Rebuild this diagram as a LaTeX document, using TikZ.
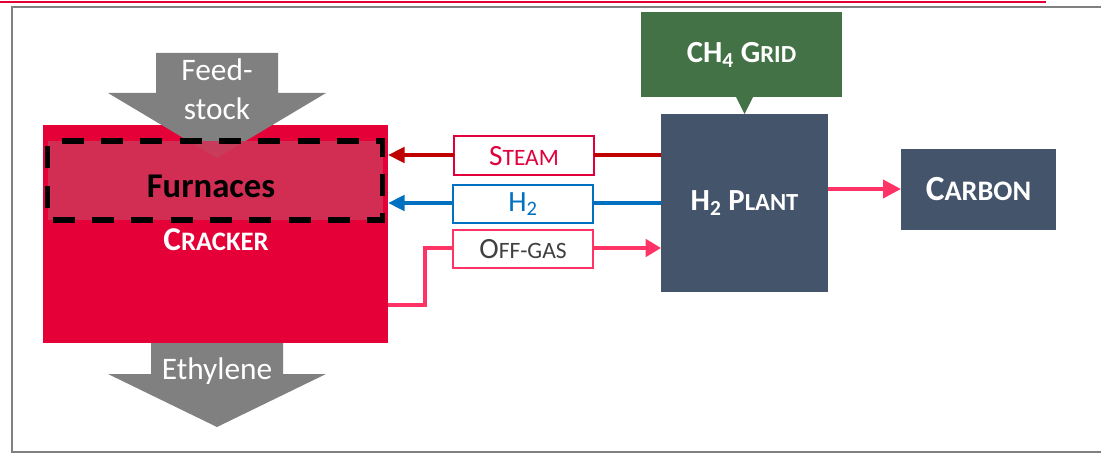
\documentclass[tikz,border=0pt]{standalone}
\usepackage{fontspec}
\setmainfont{Carlito}
\usetikzlibrary{arrows.meta}

\definecolor{crackred}{RGB}{229,0,55}
\definecolor{furnred}{RGB}{208,52,88}
\definecolor{steamred}{RGB}{192,0,0}
\definecolor{labelred}{RGB}{225,0,60}
\definecolor{hblue}{RGB}{0,112,192}
\definecolor{offpink}{RGB}{255,51,102}
\definecolor{slate}{RGB}{68,84,106}
\definecolor{gridgreen}{RGB}{66,114,70}
\definecolor{flowgray}{RGB}{128,128,128}
\definecolor{textgray}{RGB}{64,64,64}

% lower-case small capitals faked by shrinking upper-case letters
\makeatletter
\newcommand\lowsc[1]{{\fontsize{\fpeval{0.8*\f@size}}{\f@baselineskip}\selectfont #1}}
\makeatother

\tikzset{
  area/.style={inner sep=0pt, outer sep=0pt},
  size/.style 2 args={minimum width={#1*0.75pt}, minimum height={#2*0.75pt}},
  unit/.style={area, fill=slate, text=white, font=\bfseries\fontsize{23}{27}\selectfont},
  tag/.style={area, fill=white, draw, line width=1.5pt, font=\fontsize{22}{26}\selectfont},
  flow/.style={fill=flowgray},
  flowtext/.style={text=white, font=\fontsize{23.5}{29}\selectfont, align=center, inner sep=0pt},
  pipe/.style={line width=3pt},
  feedline/.style={pipe, -{Triangle[length=12.5pt,width=11.5pt]}},
}

\begin{document}
\begin{tikzpicture}[x=0.75pt, y=-0.75pt]
\useasboundingbox (0,0) rectangle (1101,453);

% page rules
\draw[crackred, line width=2.2pt] (0,2) -- (1046,2);
\draw[flowgray, line width=1.6pt] (1101,7) -- (12,7) -- (12,452) -- (1101,452);

% ethylene product arrow (behind the cracker)
\fill[flow] (151,340) -- (283,340) -- (283,374) -- (326,374) -- (217,427)
            -- (108,374) -- (151,374) -- cycle;
\node[flowtext] (ethylene) at (217,371) {Ethylene};

% cracker
\node[area, fill=crackred, size={345}{218}] (cracker) at (215.5,234) {};
\node[text=white, font=\bfseries\fontsize{25}{29}\selectfont, inner sep=0pt]
  (crackerlbl) at (216,240) {C\lowsc{RACKER}};

% feedstock arrow
\fill[flow] (156,53) -- (278,53) -- (278,93) -- (326,93) -- (217,158)
            -- (108,93) -- (156,93) -- cycle;
\node[flowtext] (feed) at (217,89) {Feed-\\stock};

% furnaces
\node[area, fill=furnred, fill opacity=0.9, size={335}{79}] (furnace) at (215,180.5) {};
\draw[black, line width=4pt, dash pattern=on 16.5pt off 13pt, dash phase=-4pt]
  (furnace.north west) rectangle (furnace.south east);
\node[font=\bfseries\fontsize{26}{30}\selectfont, inner sep=0pt] (furnlbl) at (211,186) {Furnaces};

% hydrogen plant, methane grid, carbon
\node[unit, size={167}{178}] (plant) at (744.5,203) {H\textsubscript{2} P\lowsc{LANT}};
\node[unit, fill=gridgreen, size={201}{85}] (grid) at (741.5,54.5) {CH\textsubscript{4} G\lowsc{RID}};
\fill[gridgreen] (plant.north |- grid.south) ++(-8.5,0) -- ++(17,0) -- (plant.north) -- cycle;
\node[unit, font=\bfseries\fontsize{26.5}{30}\selectfont, size={155}{81}] (carbon) at (978.5,189.5) {C\lowsc{ARBON}};

% flow labels
\node[tag, draw=labelred, text=labelred, size={140}{39}] (steam) at (524,156) {S\lowsc{TEAM}};
\node[tag, draw=hblue, text=hblue, size={140}{38}] (hydrogen) at (523,204) {H\textsubscript{2}};
\node[tag, draw=offpink, text=textgray, size={140}{38}] (offgas) at (523,249) {O\lowsc{FF-GAS}};

% connectors
\draw[pipe, steamred] (plant.west |- 0,155) -- (steam.east |- 0,155);
\draw[feedline, steamred] (steam.west |- 0,155) -- (cracker.east |- 0,155);
\draw[pipe, hblue] (plant.west |- 0,203) -- (hydrogen.east |- 0,203);
\draw[feedline, hblue] (hydrogen.west |- 0,203) -- (cracker.east |- 0,203);
\draw[offpink, line width=2.8pt] (cracker.east |- 0,305) -| (425,248) -- (offgas.west |- 0,248);
\draw[offpink, line width=2.8pt, -{Triangle[length=11.5pt,width=13pt]}]
  (offgas.east |- 0,248) -- (plant.west |- 0,248);
\draw[offpink, line width=2.8pt, -{Triangle[length=13.5pt,width=13.5pt]}]
  (plant.east |- 0,189) -- (carbon.west |- 0,189);
\end{tikzpicture}
\end{document}
